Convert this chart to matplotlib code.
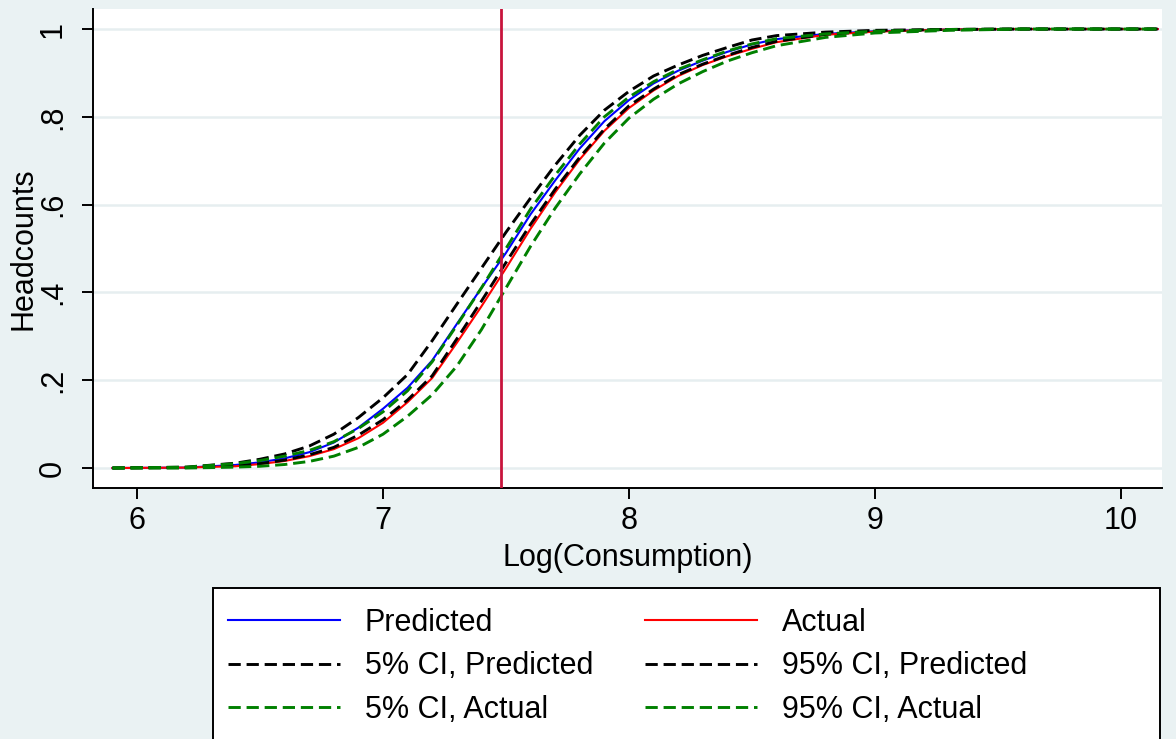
#!/usr/bin/env python3
"""Headcount CDF: predicted vs actual log consumption with CI bands."""
import matplotlib
matplotlib.use("Agg")
import matplotlib.pyplot as plt
from matplotlib.patches import Rectangle

plt.rcParams["font.family"] = ["Liberation Sans", "DejaVu Sans"]

# log consumption grid
log_cons = [5.90, 6.20, 6.40, 6.50, 6.60, 6.70, 6.80, 6.90, 7.00, 7.10, 7.20,
            7.30, 7.40, 7.50, 7.60, 7.70, 7.80, 7.90, 8.00, 8.10, 8.20, 8.30,
            8.40, 8.50, 8.60, 8.80, 9.00, 9.30, 9.60, 10.15]

predicted = [0, 0.001, 0.007, 0.013, 0.022, 0.036, 0.058, 0.092, 0.135, 0.183,
             0.245, 0.328, 0.410, 0.490, 0.578, 0.655, 0.728, 0.790, 0.838,
             0.876, 0.905, 0.928, 0.948, 0.965, 0.977, 0.989, 0.995, 0.999,
             1.0, 1.0]
actual = [0, 0.001, 0.004, 0.009, 0.016, 0.027, 0.043, 0.068, 0.103, 0.150,
          0.205, 0.285, 0.368, 0.455, 0.545, 0.628, 0.703, 0.768, 0.820,
          0.860, 0.893, 0.918, 0.938, 0.955, 0.970, 0.987, 0.994, 0.999,
          1.0, 1.0]
ci5_pred = [0, 0.002, 0.011, 0.020, 0.032, 0.050, 0.077, 0.115, 0.160, 0.213,
            0.290, 0.373, 0.455, 0.537, 0.615, 0.690, 0.758, 0.815, 0.858,
            0.893, 0.918, 0.940, 0.958, 0.975, 0.985, 0.993, 0.997, 0.999,
            1.0, 1.0]
ci95_pred = [0, 0.001, 0.005, 0.010, 0.018, 0.030, 0.047, 0.075, 0.110, 0.155,
             0.210, 0.294, 0.380, 0.468, 0.555, 0.635, 0.708, 0.772, 0.825,
             0.863, 0.896, 0.920, 0.940, 0.958, 0.972, 0.988, 0.995, 0.999,
             1.0, 1.0]
ci5_act = [0, 0.002, 0.010, 0.017, 0.027, 0.040, 0.060, 0.090, 0.128, 0.176,
           0.242, 0.325, 0.410, 0.500, 0.590, 0.667, 0.738, 0.800, 0.845,
           0.880, 0.908, 0.930, 0.950, 0.966, 0.978, 0.989, 0.995, 0.999,
           1.0, 1.0]
ci95_act = [0, 0, 0.002, 0.004, 0.008, 0.015, 0.027, 0.047, 0.077, 0.118,
            0.167, 0.232, 0.315, 0.410, 0.505, 0.592, 0.670, 0.740, 0.797,
            0.840, 0.875, 0.903, 0.927, 0.946, 0.962, 0.981, 0.991, 0.997,
            1.0, 1.0]

poverty_line = 7.48
xticks = [6, 7, 8, 9, 10]
yticks = [0, 0.2, 0.4, 0.6, 0.8, 1]
ytick_labels = ["0", ".2", ".4", ".6", ".8", "1"]

BG = "#EAF2F3"
GRID = "#E6EEF0"
DASH = (4.2, 2.0)

fig = plt.figure(figsize=(11.76, 7.39), dpi=100, facecolor=BG)
ax = fig.add_axes([0.0791, 0.3396, 0.9089, 0.6482])
ax.set_facecolor("white")

h_pred, = ax.plot(log_cons, predicted, color="#0000FF", lw=1.5, label="Predicted")
h_act, = ax.plot(log_cons, actual, color="#FF0000", lw=1.5, label="Actual")
h5p, = ax.plot(log_cons, ci5_pred, color="black", lw=2.1, dashes=DASH,
               label="5% CI, Predicted")
h95p, = ax.plot(log_cons, ci95_pred, color="black", lw=2.1, dashes=DASH,
                label="95% CI, Predicted")
h5a, = ax.plot(log_cons, ci5_act, color="#008000", lw=2.1, dashes=DASH,
               label="5% CI, Actual")
h95a, = ax.plot(log_cons, ci95_act, color="#008000", lw=2.1, dashes=DASH,
                label="95% CI, Actual")
ax.axvline(poverty_line, color="#C8143C", lw=2.0, zorder=5)

ax.set_xlim(5.821, 10.167)
ax.set_ylim(-0.0456, 1.0456)
ax.set_xticks(xticks)
ax.set_yticks(yticks)
ax.set_yticklabels(ytick_labels, rotation=90, va="center")
ax.tick_params(axis="both", direction="out", length=8, width=1.4,
               labelsize=22, color="black")
ax.tick_params(axis="x", pad=5)
ax.tick_params(axis="y", pad=10)
ax.grid(axis="y", color=GRID, lw=1.8)
ax.set_axisbelow(True)
for s in ["top", "right"]:
    ax.spines[s].set_visible(False)
for s in ["left", "bottom"]:
    ax.spines[s].set_linewidth(1.4)

ax.set_xlabel("Log(Consumption)", fontsize=22, labelpad=5)
ax.set_ylabel("Headcounts", fontsize=22, labelpad=0)

# legend box drawn by hand: Stata's box is wider than its two columns
fig.patches.append(Rectangle((0.1811, -0.02), 0.8053, 0.2243,
                             transform=fig.transFigure, facecolor="white",
                             edgecolor="black", lw=1.4, zorder=0))
handles = [h_pred, h5p, h5a, h_act, h95p, h95a]
fig.legend(handles=handles, ncol=2, loc="upper left",
           bbox_to_anchor=(0.1939, 0.1772), bbox_transform=fig.transFigure,
           fontsize=22, handlelength=3.66, handletextpad=0.82,
           columnspacing=1.7, labelspacing=0.44, borderpad=0,
           borderaxespad=0, frameon=False)

fig.savefig("out.png", dpi=100, facecolor=BG)
